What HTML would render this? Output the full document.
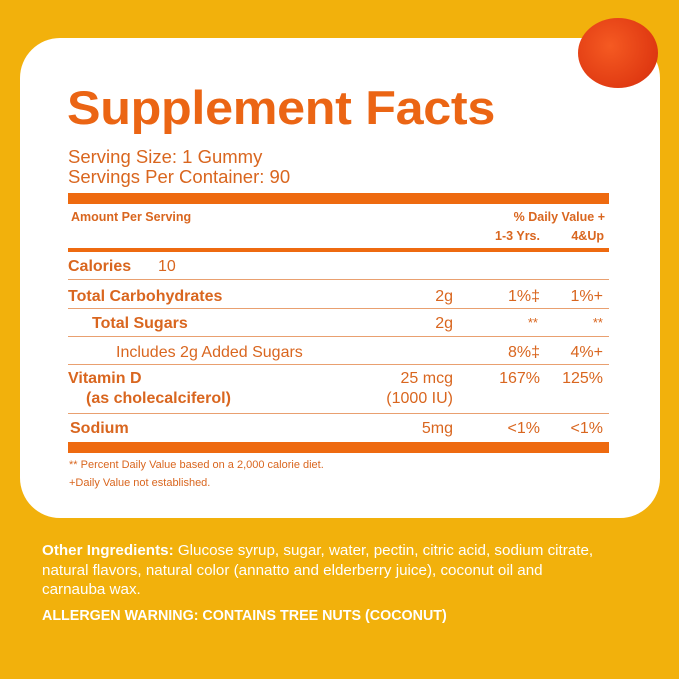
<!DOCTYPE html>
<html><head><meta charset="utf-8"><style>
body{margin:0;width:679px;height:679px;background:#F2B10C;position:relative;overflow:hidden;font-family:"Liberation Sans",sans-serif}
.card{position:absolute;left:20px;top:38px;width:640px;height:480px;background:#fff;border-radius:40px}
.t{position:absolute;color:#D9661F;white-space:nowrap;line-height:1}
.b{font-weight:bold}
.bar{position:absolute;left:68px;width:541px;background:#EE6A10}
.ln{position:absolute;left:68px;width:541px;height:1px;background:#E9A070}
.r{text-align:right}
.w{position:absolute;left:42px;color:#fff;font-size:15.2px;line-height:19.5px;white-space:nowrap}
</style></head><body>
<div class="card"></div>
<div style="position:absolute;left:578px;top:18px;width:80px;height:70px;border-radius:50%;background:radial-gradient(circle at 40% 40%,#F55A22,#E03A12 70%,#C8300E)"></div>
<div class="t b" style="left:67px;top:84px;font-size:47px;color:#EB6514;letter-spacing:-0.3px;transform:scaleX(1.07);transform-origin:left">Supplement Facts</div>
<div class="t" style="left:68px;top:148px;font-size:18.5px">Serving Size: 1 Gummy</div>
<div class="t" style="left:68px;top:168px;font-size:18.5px">Servings Per Container: 90</div>
<div class="bar" style="top:193px;height:11px"></div>
<div class="t b" style="left:71px;top:211px;font-size:12.5px">Amount Per Serving</div>
<div class="t b r" style="right:74px;top:211px;font-size:12.5px">% Daily Value +</div>
<div class="t b r" style="right:139px;top:230px;font-size:12.5px">1-3 Yrs.</div>
<div class="t b r" style="right:75px;top:230px;font-size:12.5px">4&amp;Up</div>
<div class="bar" style="top:248px;height:4px"></div>
<div class="t b" style="left:68px;top:259px;font-size:16px">Calories</div>
<div class="t" style="left:158px;top:259px;font-size:16px">10</div>
<div class="ln" style="top:279px"></div>
<div class="t b" style="left:68px;top:289px;font-size:16px">Total Carbohydrates</div>
<div class="t r" style="right:226px;top:289px;font-size:16px">2g</div>
<div class="t r" style="right:139px;top:289px;font-size:16px">1%‡</div>
<div class="t r" style="right:76px;top:289px;font-size:16px">1%+</div>
<div class="ln" style="top:308px"></div>
<div class="t b" style="left:92px;top:316px;font-size:16px">Total Sugars</div>
<div class="t r" style="right:226px;top:316px;font-size:16px">2g</div>
<div class="t r" style="right:141px;top:316px;font-size:13px">**</div>
<div class="t r" style="right:76px;top:316px;font-size:13px">**</div>
<div class="ln" style="top:336px"></div>
<div class="t" style="left:116px;top:345px;font-size:16px">Includes 2g Added Sugars</div>
<div class="t r" style="right:139px;top:345px;font-size:16px">8%‡</div>
<div class="t r" style="right:76px;top:345px;font-size:16px">4%+</div>
<div class="ln" style="top:364px"></div>
<div class="t b" style="left:68px;top:371px;font-size:16px">Vitamin D</div>
<div class="t b" style="left:86px;top:391px;font-size:16px">(as cholecalciferol)</div>
<div class="t r" style="right:226px;top:371px;font-size:16px">25 mcg</div>
<div class="t r" style="right:226px;top:391px;font-size:16px">(1000 IU)</div>
<div class="t r" style="right:139px;top:371px;font-size:16px">167%</div>
<div class="t r" style="right:76px;top:371px;font-size:16px">125%</div>
<div class="ln" style="top:413px"></div>
<div class="t b" style="left:70px;top:421px;font-size:16px">Sodium</div>
<div class="t r" style="right:226px;top:421px;font-size:16px">5mg</div>
<div class="t r" style="right:139px;top:421px;font-size:16px">&lt;1%</div>
<div class="t r" style="right:76px;top:421px;font-size:16px">&lt;1%</div>
<div class="bar" style="top:442px;height:11px"></div>
<div class="t" style="left:69px;top:460px;font-size:11px">** Percent Daily Value based on a 2,000 calorie diet.</div>
<div class="t" style="left:69px;top:478px;font-size:11px">+Daily Value not established.</div>
<div class="w" style="top:541px"><b>Other Ingredients:</b> Glucose syrup, sugar, water, pectin, citric acid, sodium citrate,<br>natural flavors, natural color (annatto and elderberry juice), coconut oil and<br>carnauba wax.</div>
<div class="w" style="top:607px;font-weight:bold;font-size:14.3px">ALLERGEN WARNING: CONTAINS TREE NUTS (COCONUT)</div>
</body></html>
